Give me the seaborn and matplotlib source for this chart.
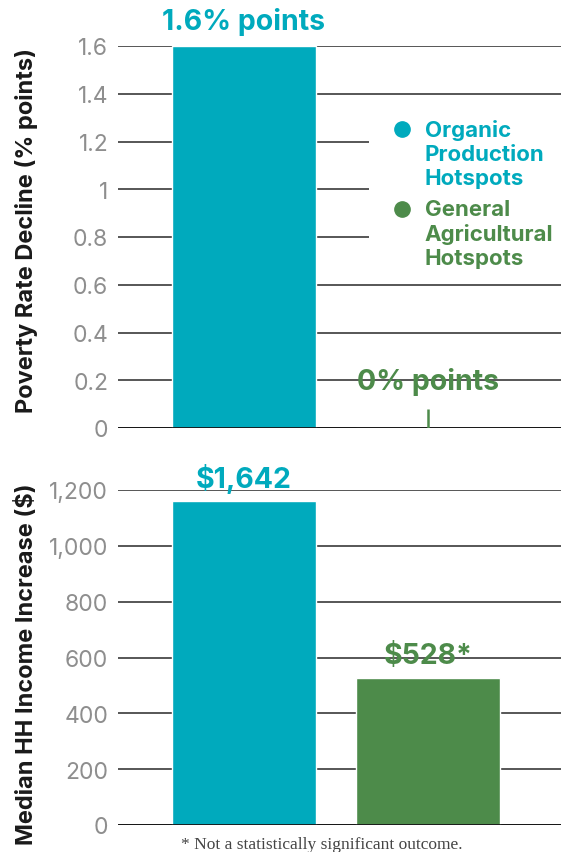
import numpy as np
import pandas as pd
import matplotlib
matplotlib.use("Agg")
import matplotlib.pyplot as plt
import seaborn as sns
from matplotlib.lines import Line2D
from matplotlib.legend_handler import HandlerLine2D
from matplotlib.ticker import FuncFormatter

# Data
GROUPS = ["Organic Production Hotspots", "General Agricultural Hotspots"]
LEGEND_LABELS = ["Organic\nProduction\nHotspots", "General\nAgricultural\nHotspots"]
POVERTY_DECLINE = [1.6, 0.0]
POVERTY_LABELS = ["1.6% points", "0% points"]
INCOME_BAR = [1160, 528]          # bar heights as drawn in the source chart
INCOME_LABELS = ["$1,642", "$528*"]
POVERTY_TICKS = [0, 0.2, 0.4, 0.6, 0.8, 1.0, 1.2, 1.4, 1.6]
INCOME_TICKS = [0, 200, 400, 600, 800, 1000, 1200]
FOOTNOTE = "* Not a statistically significant outcome."

TEAL = "#00AABD"
GREEN = "#4D8B4A"
COLORS = [TEAL, GREEN]
TICK_GRAY = "#8E8E8E"
GRID = "#3A3A3A"

sns.set_theme(style="white")
plt.rcParams["font.family"] = ["Inter", "DejaVu Sans"]

W, H = 561, 853
fig = plt.figure(figsize=(W / 100, H / 100), dpi=100)
ax1 = fig.add_axes([118 / W, 1 - 429 / H, 443 / W, 382 / H])
ax2 = fig.add_axes([118 / W, 1 - 826 / H, 443 / W, 335 / H])

df_pov = pd.DataFrame({"group": GROUPS, "value": POVERTY_DECLINE})
df_inc = pd.DataFrame({"group": GROUPS, "value": INCOME_BAR})

BAR_W = 144 / 184
XLIM = (-126 / 184, 317 / 184)
LABEL_SIZE = 20.5


def style_axis(ax, ticks, ylim, fmt):
    ax.set_xlim(*XLIM)
    ax.set_ylim(*ylim)
    ax.set_yticks(ticks)
    ax.yaxis.set_major_formatter(FuncFormatter(fmt))
    ax.tick_params(axis="y", length=0, pad=7, labelsize=16.5, labelcolor=TICK_GRAY)
    ax.set_xticks([])
    ax.set_xlabel("")
    for s in ax.spines.values():
        s.set_visible(False)
    ax.yaxis.grid(True, color=GRID, lw=1.2)
    ax.set_axisbelow(True)
    ax.axhline(0, color="#111111", lw=2, zorder=3)


# --- top panel: poverty rate decline
sns.barplot(data=df_pov, x="group", y="value", hue="group", palette=COLORS,
            width=BAR_W, saturation=1, legend=False, ax=ax1)
style_axis(ax1, POVERTY_TICKS, (0, 1.6),
           lambda v, p: f"{v:g}")
ax1.set_ylabel("Poverty Rate Decline (% points)", fontsize=17,
               fontweight="bold", color="#1a1a1a")
ax1.yaxis.set_label_coords(-0.18, 0.52)

# small marker for the zero bar
ZERO_TICK = 0.08
for i, v in enumerate(POVERTY_DECLINE):
    if v == 0:
        ax1.vlines(i, 0, ZERO_TICK, color=COLORS[i], lw=1.8, zorder=4)
for i, (v, lab) in enumerate(zip(POVERTY_DECLINE, POVERTY_LABELS)):
    off = 8 if v > 0 else 24
    ax1.annotate(lab, (i, v), xytext=(0, off), textcoords="offset points",
                 ha="center", va="bottom", fontsize=LABEL_SIZE, fontweight="bold",
                 color=COLORS[i], annotation_clip=False, zorder=2)

# --- bottom panel: median household income
sns.barplot(data=df_inc, x="group", y="value", hue="group", palette=COLORS,
            width=BAR_W, saturation=1, legend=False, ax=ax2)
style_axis(ax2, INCOME_TICKS, (0, 1200),
           lambda v, p: f"{int(v):,}")
ax2.set_ylabel("Median HH Income Increase ($)", fontsize=17,
               fontweight="bold", color="#1a1a1a")
ax2.yaxis.set_label_coords(-0.18, 0.484)
for i, (v, lab) in enumerate(zip(INCOME_BAR, INCOME_LABELS)):
    ax2.annotate(lab, (i, v), xytext=(0, 6), textcoords="offset points",
                 ha="center", va="bottom", fontsize=LABEL_SIZE, fontweight="bold",
                 color=COLORS[i], annotation_clip=False)


# legend with marker next to the first line of each label
class TopMarkerHandler(HandlerLine2D):
    def create_artists(self, legend, orig_handle, xdescent, ydescent,
                       width, height, fontsize, trans):
        arts = super().create_artists(legend, orig_handle, xdescent, ydescent,
                                      width, height, fontsize, trans)
        for a in arts:
            a.set_ydata(np.asarray(a.get_ydata()) + fontsize * 1.12)
        return arts


handles = [Line2D([], [], ls="none", marker="o", markersize=11,
                  markerfacecolor=c, markeredgecolor=c) for c in COLORS]
leg = fig.legend(handles, LEGEND_LABELS, loc="upper left",
                 bbox_to_anchor=(369 / W, 1 - 109 / H, (W - 369) / W, 0.0),
                 mode="expand", borderaxespad=0,
                 frameon=True, facecolor="white", edgecolor="none", framealpha=1,
                 fontsize=16, handlelength=2.0, handletextpad=0.0,
                 borderpad=0.5, labelspacing=0.5,
                 handler_map={Line2D: TopMarkerHandler()})
for t, c in zip(leg.get_texts(), COLORS):
    t.set_color(c)
    t.set_fontweight("bold")
    t.set_linespacing(1.25)

fig.text(322 / W, 1 - 845 / H, FOOTNOTE, ha="center", va="center",
         fontsize=12.5, color="#444444", family=["Liberation Serif", "DejaVu Serif"])

fig.savefig("out.png", dpi=100)
